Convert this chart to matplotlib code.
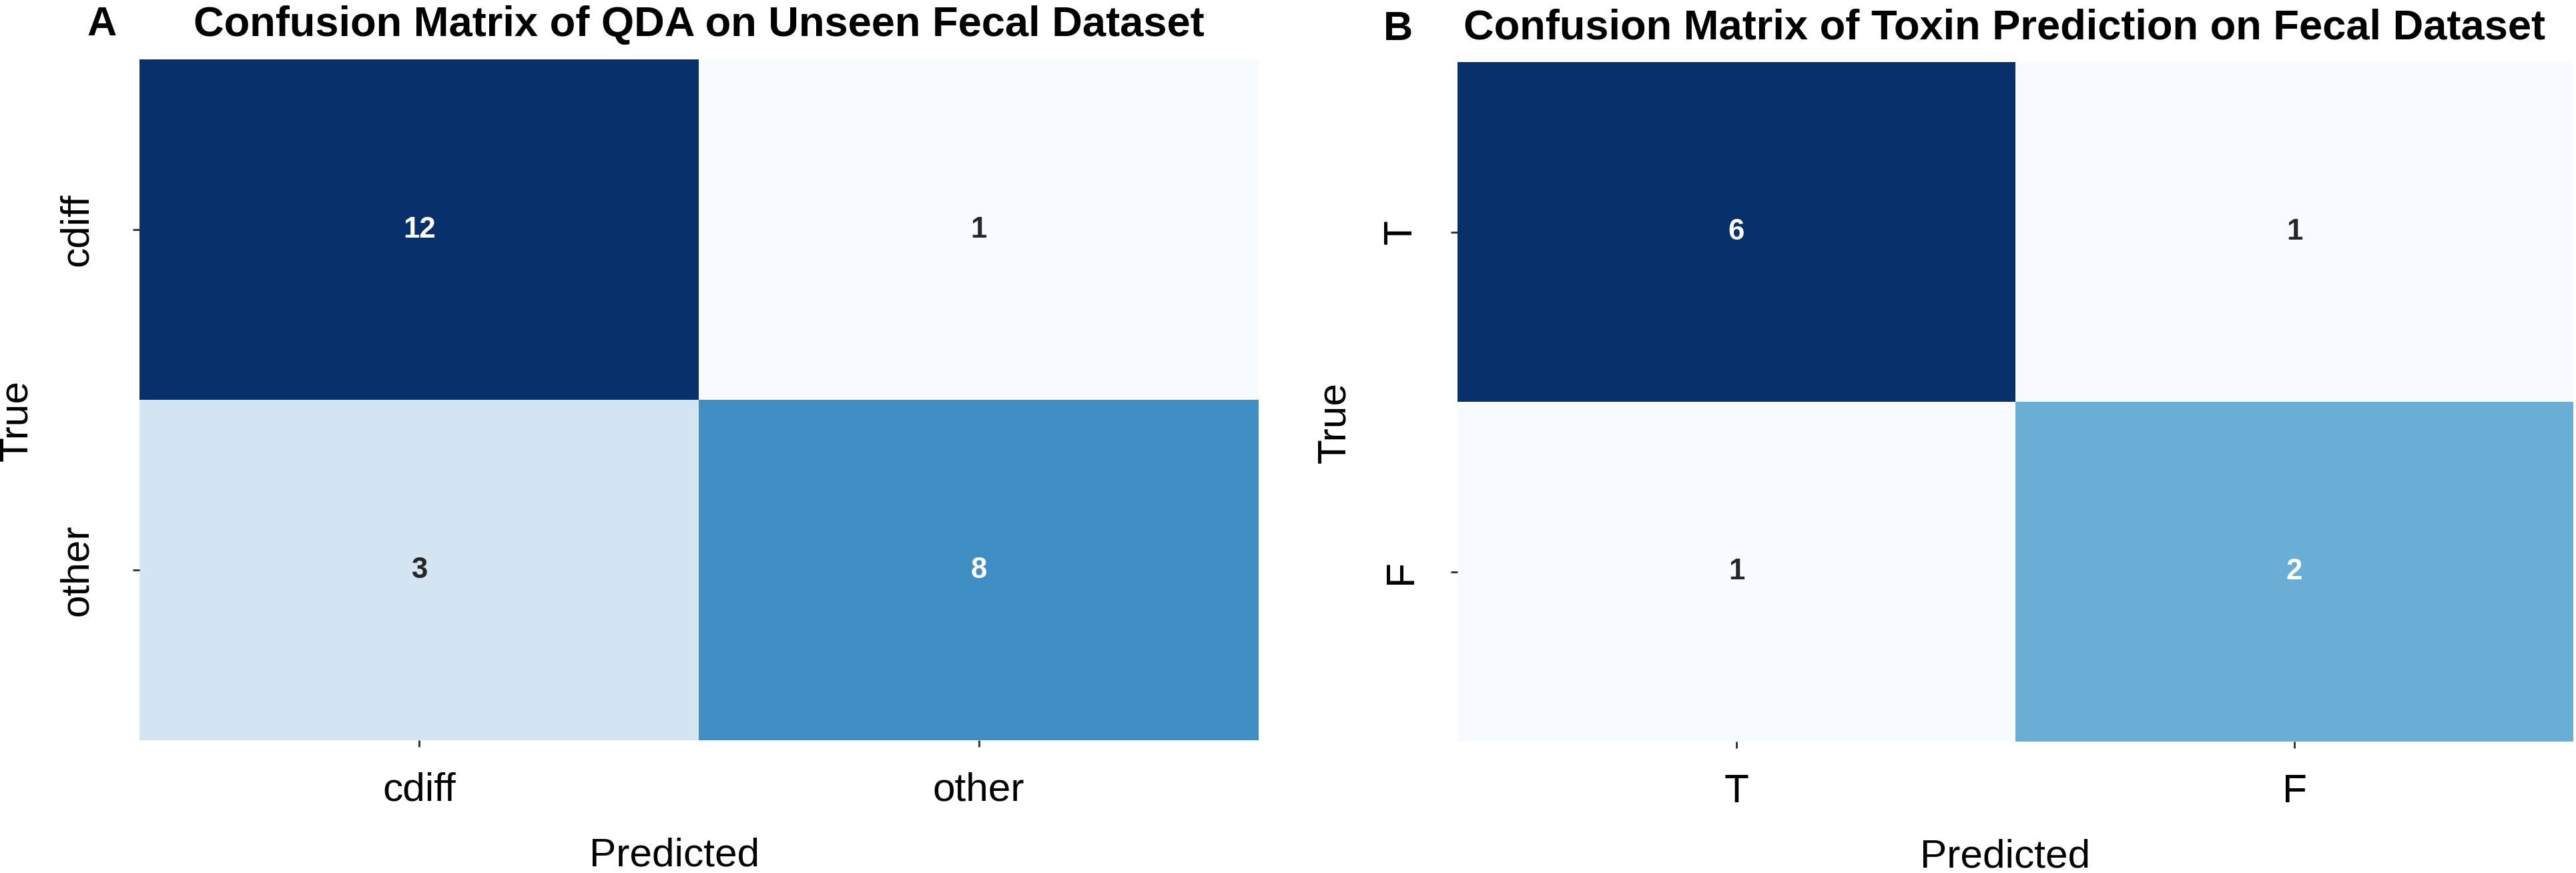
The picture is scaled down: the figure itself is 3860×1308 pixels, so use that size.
import numpy as np
import matplotlib
matplotlib.use("Agg")
import matplotlib.pyplot as plt
import seaborn as sns

plt.rcParams['font.family'] = ['Liberation Sans', 'DejaVu Sans']

# panel A: QDA on unseen fecal dataset
qda_labels = ["cdiff", "other"]
qda_counts = np.array([[12, 1],
                       [3, 8]])

# panel B: toxin prediction on fecal dataset
toxin_labels = ["T", "F"]
toxin_counts = np.array([[6, 1],
                         [1, 2]])

W, H = 3861, 1308
DPI = 300


def px_axes(left, top, right, bottom):
    """ Axes rect in figure fraction from pixel edges (top-left origin). """
    return [left / W, 1 - bottom / H, (right - left) / W, (bottom - top) / H]


def draw_matrix(ax, counts, labels, title, vmin, vmax, ypad, xlab_x, ylab_y):
    sns.heatmap(counts, annot=True, fmt='d', cmap='Blues', cbar=False,
                vmin=vmin, vmax=vmax, ax=ax,
                annot_kws={'fontsize': 10.5, 'fontweight': 'bold'},
                xticklabels=labels, yticklabels=labels)
    ax.set_title(title, fontsize=15.2, fontweight='bold', y=1.034, pad=0)
    ax.set_xlabel("Predicted", fontsize=14.5, va='baseline')
    ax.set_ylabel("True", fontsize=14.5, va='center')
    ax.xaxis.set_label_coords(xlab_x, -0.185)
    ax.yaxis.set_label_coords(-0.11, ylab_y)
    ax.tick_params(axis='both', length=2.4, width=0.7, color='#333333', labelsize=14.5)
    ax.tick_params(axis='x', pad=9)
    ax.tick_params(axis='y', pad=ypad)
    plt.setp(ax.get_yticklabels(), rotation=90, va='center')
    plt.setp(ax.get_xticklabels(), rotation=0)


fig = plt.figure(figsize=(W / DPI, H / DPI), dpi=DPI)
ax_a = fig.add_axes(px_axes(209, 89, 1886, 1109))
ax_b = fig.add_axes(px_axes(2184, 93, 3856, 1111))

draw_matrix(ax_a, qda_counts, qda_labels,
            "Confusion Matrix of QDA on Unseen Fecal Dataset",
            vmin=qda_counts.min(), vmax=qda_counts.max(), ypad=13.4,
            xlab_x=0.478, ylab_y=0.47)
draw_matrix(ax_b, toxin_counts, toxin_labels,
            "Confusion Matrix of Toxin Prediction on Fecal Dataset",
            vmin=1, vmax=3, ypad=11.3,
            xlab_x=0.491, ylab_y=0.47)
ax_b.title.set_x(0.49)

fig.text(130 / W, 1 - 53 / H, "A", fontsize=14.7, fontweight='bold', va='baseline')
fig.text(2073 / W, 1 - 60 / H, "B", fontsize=14.7, fontweight='bold', va='baseline')

fig.savefig("out.png", dpi=DPI, facecolor='white')
plt.close(fig)
